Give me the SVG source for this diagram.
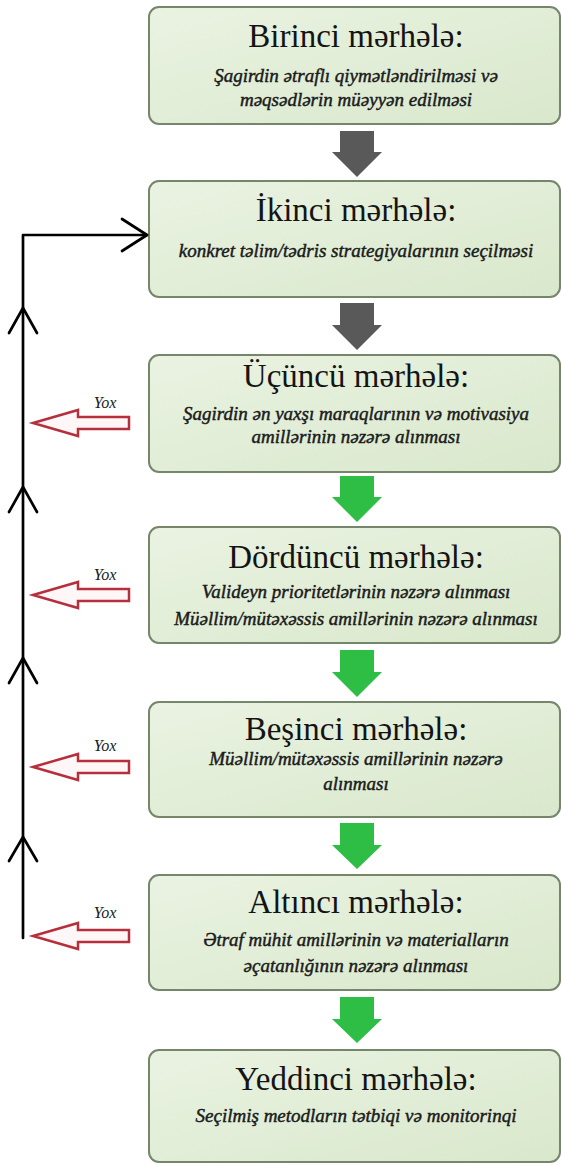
<svg xmlns="http://www.w3.org/2000/svg" width="562" height="1165" viewBox="0 0 562 1165">
  <defs>
    <linearGradient id="boxFill" x1="0" y1="0" x2="1" y2="1">
      <stop offset="0" stop-color="#eaf3e2"/>
      <stop offset="1" stop-color="#d9e8cc"/>
    </linearGradient>
    <style>
      .box { fill: url(#boxFill); stroke: #76866c; stroke-width: 2; }
      .title { font-family: "Liberation Serif", "DejaVu Serif", serif; font-size: 33px; fill: #141414; text-anchor: middle; }
      .sub { font-family: "Liberation Serif", "DejaVu Serif", serif; font-style: italic; font-size: 19px; fill: #1a1a1a; text-anchor: middle; stroke: #1a1a1a; stroke-width: 0.45; }
      .no { font-family: "Liberation Serif", "DejaVu Serif", serif; font-style: italic; font-size: 16px; fill: #1a1a1a; text-anchor: middle; }
      .grey { fill: #595959; }
      .green { fill: #2fbe45; }
      .loop { fill: none; stroke: #000; stroke-width: 2.7; stroke-linecap: round; stroke-linejoin: round; }
      .reject { fill: #fff7f7; stroke: #b52f3c; stroke-width: 2.5; stroke-linejoin: miter; }
    </style>
  </defs>

  <rect width="562" height="1165" fill="#ffffff"/>

  <!-- stage boxes -->
  <g id="stage1">
    <rect class="box" x="149" y="7" width="411" height="117" rx="10"/>
    <text class="title" x="356" y="47">Birinci mərhələ:</text>
    <text class="sub" x="356" y="82">Şagirdin ətraflı qiymətləndirilməsi və</text>
    <text class="sub" x="356" y="106">məqsədlərin müəyyən edilməsi</text>
  </g>

  <g id="stage2">
    <rect class="box" x="149" y="181" width="411" height="116" rx="10"/>
    <text class="title" x="356" y="221">İkinci mərhələ:</text>
    <text class="sub" x="356" y="257">konkret təlim/tədris strategiyalarının seçilməsi</text>
  </g>

  <g id="stage3">
    <rect class="box" x="149" y="355" width="411" height="117" rx="10"/>
    <text class="title" x="356" y="387">Üçüncü mərhələ:</text>
    <text class="sub" x="356" y="420">Şagirdin ən yaxşı maraqlarının və motivasiya</text>
    <text class="sub" x="356" y="443">amillərinin nəzərə alınması</text>
  </g>

  <g id="stage4">
    <rect class="box" x="149" y="527" width="411" height="116" rx="10"/>
    <text class="title" x="356" y="568">Dördüncü mərhələ:</text>
    <text class="sub" x="356" y="598">Valideyn prioritetlərinin nəzərə alınması</text>
    <text class="sub" x="356" y="625">Müəllim/mütəxəssis amillərinin nəzərə alınması</text>
  </g>

  <g id="stage5">
    <rect class="box" x="149" y="702" width="411" height="115" rx="10"/>
    <text class="title" x="356" y="740">Beşinci mərhələ:</text>
    <text class="sub" x="356" y="765">Müəllim/mütəxəssis amillərinin nəzərə</text>
    <text class="sub" x="356" y="790">alınması</text>
  </g>

  <g id="stage6">
    <rect class="box" x="149" y="875" width="411" height="115" rx="10"/>
    <text class="title" x="356" y="913">Altıncı mərhələ:</text>
    <text class="sub" x="356" y="946">Ətraf mühit amillərinin və materialların</text>
    <text class="sub" x="356" y="972">əçatanlığının nəzərə alınması</text>
  </g>

  <g id="stage7">
    <rect class="box" x="149" y="1050" width="411" height="112" rx="10"/>
    <text class="title" x="356" y="1090">Yeddinci mərhələ:</text>
    <text class="sub" x="356" y="1122">Seçilmiş metodların tətbiqi və monitorinqi</text>
  </g>

  <!-- connectors -->
  <g id="connectors">
    <!-- block arrows between stages -->
    <polygon class="grey" points="340,131 374,131 374,152 382,152 357,177 332,152 340,152"/>
    <polygon class="grey" points="340,303 374,303 374,325 382,325 357,350 332,325 340,325"/>
    <polygon class="green" points="340,476 374,476 374,497 382,497 357,522 332,497 340,497"/>
    <polygon class="green" points="340,650 374,650 374,672 382,672 357,697 332,672 340,672"/>
    <polygon class="green" points="340,823 374,823 374,845 382,845 357,869 332,845 340,845"/>
    <polygon class="green" points="340,997 374,997 374,1019 382,1019 357,1043 332,1019 340,1019"/>

    <!-- feedback loop back to stage 2 -->
    <polyline class="loop" points="23,938 23,235 147,235"/>
    <polyline class="loop" points="122,219 147,235 122,251"/>
    <polyline class="loop" points="9,333 23,308 37,333"/>
    <polyline class="loop" points="9,512 23,487 37,512"/>
    <polyline class="loop" points="9,683 23,658 37,683"/>
    <polyline class="loop" points="9,861 23,837 37,861"/>

    <!-- "no" outlets -->
    <polygon class="reject" points="33,423 78,410 78,417 129,417 129,429 78,429 78,436"/>
    <text class="no" x="105" y="408">Yox</text>
    <polygon class="reject" points="33,595 78,582 78,589 129,589 129,601 78,601 78,608"/>
    <text class="no" x="105" y="580">Yox</text>
    <polygon class="reject" points="33,767 78,754 78,761 129,761 129,773 78,773 78,780"/>
    <text class="no" x="105" y="751">Yox</text>
    <polygon class="reject" points="33,936 78,923 78,930 129,930 129,942 78,942 78,949"/>
    <text class="no" x="105" y="918">Yox</text>
  </g>
</svg>
